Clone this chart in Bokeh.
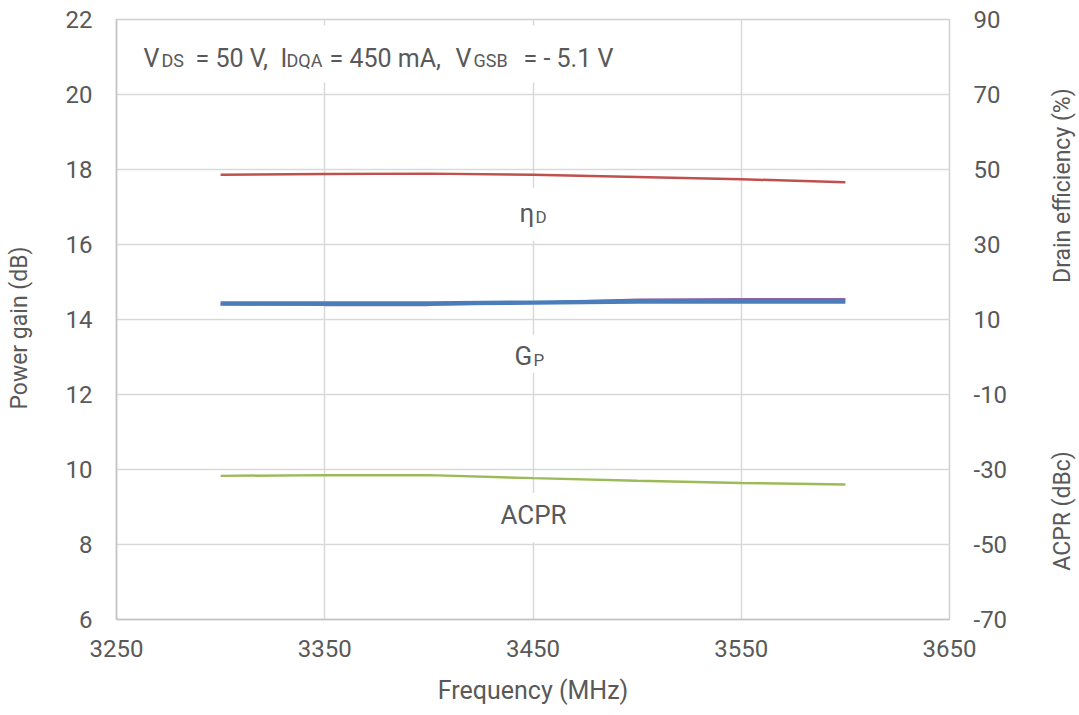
import math
from bokeh.plotting import figure
from bokeh.layouts import row
from bokeh.models import (Range1d, LinearAxis, FixedTicker, Label, BoxAnnotation,
                          PrintfTickFormatter)
from bokeh.embed import file_html
from bokeh.resources import INLINE

# ---------------- data ----------------
freq_mhz = [3300, 3350, 3400, 3450, 3500, 3550, 3600]
power_gain_db = [14.43, 14.43, 14.43, 14.45, 14.48, 14.48, 14.48]
power_gain_b_db = [14.41, 14.39, 14.39, 14.45, 14.53, 14.54, 14.54]
drain_eff_pct = [48.6, 48.8, 48.9, 48.6, 48.0, 47.4, 46.6]
acpr_dbc = [-31.7, -31.5, -31.5, -32.3, -33.0, -33.6, -34.0]

x_ticks = [3250, 3350, 3450, 3550, 3650]
gain_ticks = [6, 8, 10, 12, 14, 16, 18, 20, 22]
right_ticks = [-70, -50, -30, -10, 10, 30, 50, 70, 90]

# ---------------- style ----------------
FONT = "Roboto"
TXT = "#595959"
NB = "\u00a0"
W_TOTAL, H = 1079, 715
W_SIDE = 38
W = W_TOTAL - W_SIDE
PX_L, PX_R, PX_T, PX_B = 116, 949, 19, 618.5  # frame edges in pixels

p = figure(width=W, height=H, output_backend="svg", toolbar_location=None,
           x_range=Range1d(3250, 3650), y_range=Range1d(6, 22),
           min_border_left=PX_L, min_border_right=W - PX_R,
           min_border_top=PX_T, min_border_bottom=int(H - PX_B))
p.extra_y_ranges = {"right": Range1d(-70, 90)}

p.outline_line_color = "#D0D0D0"
p.outline_line_width = 1.5
p.background_fill_color = "white"
p.border_fill_color = "white"


def no_ticks(ax):
    ax.major_tick_out = 0
    ax.major_tick_in = 0
    ax.minor_tick_out = 0
    ax.minor_tick_in = 0


for ax in (p.xaxis[0], p.yaxis[0]):
    no_ticks(ax)
    ax.axis_line_color = "#C4C4C4"
    ax.axis_line_width = 1.5
    ax.major_label_text_font = FONT
    ax.major_label_text_font_size = "24px"
    ax.major_label_text_color = TXT
    ax.axis_label_text_font = FONT
    ax.axis_label_text_color = TXT
    ax.axis_label_text_font_style = "normal"

p.xaxis[0].ticker = FixedTicker(ticks=x_ticks)
p.xaxis[0].axis_label = "Frequency (MHz)"
p.xaxis[0].axis_label_text_font_size = "25px"
p.xaxis[0].major_label_standoff = 20
p.xaxis[0].axis_label_standoff = 16

p.yaxis[0].ticker = FixedTicker(ticks=gain_ticks)
p.yaxis[0].axis_label = "Power gain (dB)" + NB * 3
p.yaxis[0].axis_label_text_font_size = "23px"
p.yaxis[0].major_label_standoff = 24
p.yaxis[0].axis_label_standoff = 30

raxis = LinearAxis(y_range_name="right", ticker=FixedTicker(ticks=right_ticks),
                   formatter=PrintfTickFormatter(format="%d"))
no_ticks(raxis)
raxis.axis_line_color = None
raxis.major_label_text_font = FONT
raxis.major_label_text_font_size = "24px"
raxis.major_label_text_color = TXT
raxis.major_label_standoff = 24
p.add_layout(raxis, "right")

p.xgrid.grid_line_color = "#D9D9D9"
p.xgrid.grid_line_width = 1.5
p.ygrid.grid_line_color = "#D9D9D9"
p.ygrid.grid_line_width = 1.5

# ---------------- series ----------------
p.line(freq_mhz, power_gain_b_db, line_color="#8E62A6", line_width=2.5)
p.line(freq_mhz, power_gain_db, line_color="#4A7EBB", line_width=4.5)
p.line(freq_mhz, drain_eff_pct, y_range_name="right", line_color="#C0504D", line_width=2.5)
p.line(freq_mhz, acpr_dbc, y_range_name="right", line_color="#9BBB59", line_width=2.5)

# ---------------- annotations ----------------


def px_x(px):
    return 3250 + (px - PX_L) * 400.0 / (PX_R - PX_L)


def px_y(py):
    return 22 - (py - PX_T) * 16.0 / (PX_B - PX_T)


def white_box(l, r, t, b):
    p.add_layout(BoxAnnotation(left=px_x(l), right=px_x(r), top=px_y(t), bottom=px_y(b),
                               fill_color="white", fill_alpha=1.0, line_color=None))


def frag(text, px, py, size, align="left"):
    p.add_layout(Label(x=px_x(px), y=px_y(py), text=text, text_font=FONT,
                       text_font_size=f"{size}px", text_color=TXT,
                       text_align=align, text_baseline="alphabetic"))


white_box(135, 630, 25, 82)
white_box(505, 562, 187, 240)
white_box(505, 560, 334, 372)
white_box(490, 578, 492, 541)

# condition text with subscripts
frag("V", 143, 58, 25)
frag("DS", 161, 60, 18)
frag("= 50 V,", 195, 58, 25)
frag("I", 280, 58, 25)
frag("DQA", 286, 60, 18)
frag("= 450 mA,", 329, 58, 25)
frag("V", 455, 58, 25)
frag("GSB", 473, 60, 18)
frag("= - 5.1 V", 523, 58, 25)

# curve labels
frag("η", 519, 212, 26)
frag("D", 535, 216, 17)
frag("G", 514, 355, 26)
frag("P", 533, 359, 17)
frag("ACPR", 533, 514, 26, align="center")

# ---------------- right-hand titles (narrow side panel) ----------------
# The row aligns this panel's frame with the main frame (page y 19 .. 618.5),
# so its y range is expressed as (H - page_y) over that same span.
side = figure(width=W_SIDE, height=H, output_backend="svg", toolbar_location=None,
              x_range=Range1d(0, W_SIDE), y_range=Range1d(H - PX_B, H - PX_T),
              x_axis_type=None, y_axis_type=None,
              min_border_left=0, min_border_right=0, min_border_top=0, min_border_bottom=0)
side.outline_line_color = None
side.background_fill_color = "white"
side.border_fill_color = "white"


def side_title(text, page_x, page_y):
    side.add_layout(Label(x=page_x - W, y=H - page_y, text=text, text_font=FONT,
                          text_font_size="23px", text_color=TXT, angle=math.pi / 2,
                          text_align="center", text_baseline="middle"))


side_title("Drain efficiency (%)", 1062, 185)
side_title("ACPR (dBc)", 1062, 510)

layout = row(p, side, spacing=0)
open("out.html", "w").write(file_html(layout, INLINE))
